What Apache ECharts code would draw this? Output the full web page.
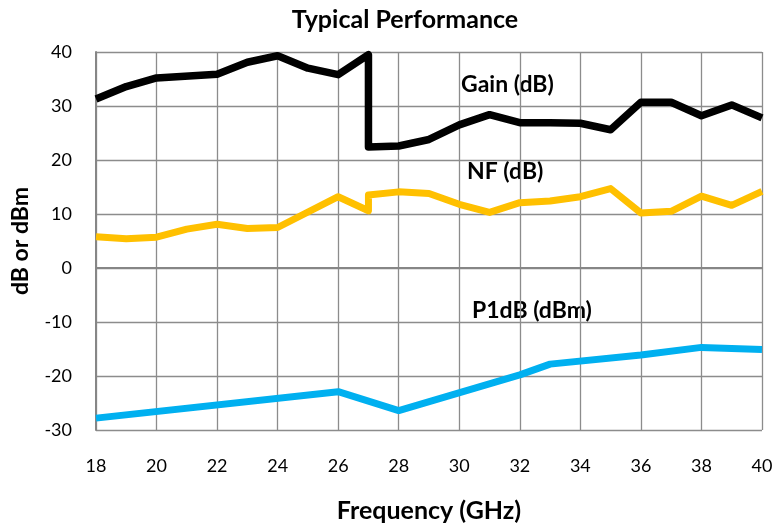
<!DOCTYPE html>
<html>
<head>
<meta charset="utf-8">
<script src="https://cdn.jsdelivr.net/npm/echarts@6/dist/echarts.min.js"></script>
<style>
html,body{margin:0;padding:0;background:#fff;}
#chart{width:777px;height:529px;}
</style>
</head>
<body>
<div id="chart"></div>
<script>
// Data
const gainFreq = [18,19,20,22,23,24,25,26,27,27,28,29,30,31,32,33,34,35,36,37,38,39,40];
const gainVals = [31.3,33.6,35.2,35.9,38.1,39.3,37.0,35.8,39.5,22.4,22.6,23.8,26.5,28.4,26.9,26.9,26.8,25.6,30.7,30.7,28.2,30.2,27.8];

const nfFreq = [18,19,20,21,22,23,24,26,27,27,28,29,30,31,32,33,34,35,36,37,38,39,40];
const nfVals = [5.8,5.4,5.7,7.2,8.1,7.3,7.5,13.2,10.6,13.5,14.1,13.8,11.8,10.3,12.1,12.4,13.2,14.7,10.2,10.5,13.3,11.6,14.2];

const p1Freq = [18,26,28,32,33,36,38,40];
const p1Vals = [-27.8,-22.9,-26.4,-19.8,-17.8,-16.1,-14.7,-15.1];

const seriesNames = ['Gain (dB)','NF (dB)','P1dB (dBm)'];

function pairs(xs, ys){ return xs.map((x,i)=>[x, ys[i]]); }

const FONT = 'Lato';
const chart = echarts.init(document.getElementById('chart'));
const gridStyle = {color:'#8c8c8c', width:1.3};
chart.setOption({
  animation:false,
  backgroundColor:'#fff',
  title:{
    text:'Typical Performance',
    left:400, top:2, textAlign:'center',
    textStyle:{fontFamily:FONT,fontWeight:'bold',fontSize:25,color:'#000'}
  },
  grid:{left:96,right:15,top:52,bottom:99},
  xAxis:{
    type:'value', min:18, max:40, interval:2,
    name:'Frequency (GHz)', nameLocation:'middle', nameGap:68,
    nameTextStyle:{fontFamily:FONT,fontWeight:'bold',fontSize:25,color:'#000'},
    axisLine:{show:true,lineStyle:{color:'#868686',width:2}},
    axisTick:{show:false},
    axisLabel:{fontFamily:FONT,fontSize:18,color:'#000',margin:27},
    splitLine:{show:true,lineStyle:gridStyle}
  },
  yAxis:{
    type:'value', min:-30, max:40, interval:10,
    name:'dB or dBm', nameLocation:'middle', nameGap:64,
    nameTextStyle:{fontFamily:FONT,fontWeight:'bold',fontSize:23,color:'#000'},
    axisLine:{show:true,lineStyle:{color:'#868686',width:2}},
    axisTick:{show:false},
    axisLabel:{fontFamily:FONT,fontSize:18,color:'#000',margin:24},
    splitLine:{show:true,lineStyle:gridStyle}
  },
  series:[
    {name:seriesNames[0],type:'line',data:pairs(gainFreq,gainVals),showSymbol:false,
     lineStyle:{color:'#000000',width:7.5,join:'round'},itemStyle:{color:'#000'}},
    {name:seriesNames[1],type:'line',data:pairs(nfFreq,nfVals),showSymbol:false,
     lineStyle:{color:'#FFC000',width:7,join:'round'},itemStyle:{color:'#FFC000'}},
    {name:seriesNames[2],type:'line',data:pairs(p1Freq,p1Vals),showSymbol:false,
     lineStyle:{color:'#00B0F0',width:7,join:'round'},itemStyle:{color:'#00B0F0'}}
  ],
  graphic:[
    {type:'text',left:461,top:73,style:{text:seriesNames[0],font:'bold 23px Lato',fill:'#000'}},
    {type:'text',left:467,top:160,style:{text:seriesNames[1],font:'bold 23px Lato',fill:'#000'}},
    {type:'text',left:472,top:299,style:{text:seriesNames[2],font:'bold 23px Lato',fill:'#000'}}
  ]
});
</script>
</body>
</html>
